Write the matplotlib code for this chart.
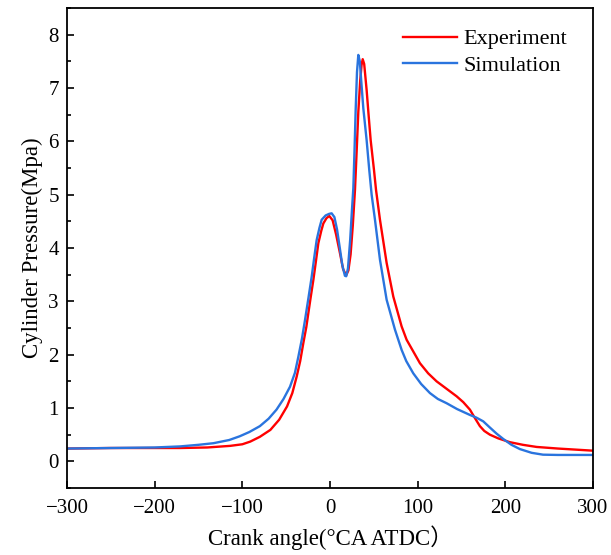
import matplotlib
matplotlib.use("Agg")
import matplotlib.pyplot as plt
from matplotlib.ticker import MultipleLocator

# crank angle (deg CA ATDC) and pressure (MPa)
exp_x = [-300, -250, -200, -171, -140, -114, -100, -91, -80, -68, -58, -49, -43, -38,
         -34, -30.4, -27, -24.7, -22, -19, -16, -13.3, -10, -7.6, -4, -0.8, 3, 7,
         11.4, 15, 18.5, 21, 23.5, 26, 28.5, 30.5, 32.3, 34.5, 36, 37.3, 39, 41.8,
         44, 46.4, 50.2, 52.5, 57, 64.6, 72.2, 81.7, 87.4, 95, 102.6, 112, 121.6,
         133, 144.4, 152, 159.6, 165, 171, 176, 182.4, 192, 205, 220, 235.7, 260,
         280, 300]
exp_y = [0.24, 0.25, 0.25, 0.25, 0.26, 0.29, 0.32, 0.37, 0.46, 0.59, 0.78, 1.03, 1.28, 1.59,
         1.88, 2.22, 2.52, 2.78, 3.08, 3.40, 3.76, 4.09, 4.32, 4.46, 4.56, 4.60, 4.52, 4.25,
         3.90, 3.60, 3.49, 3.58, 3.88, 4.42, 5.09, 5.85, 6.55, 7.15, 7.43, 7.54, 7.45, 6.96,
         6.50, 6.02, 5.46, 5.09, 4.53, 3.72, 3.09, 2.53, 2.28, 2.06, 1.84, 1.65, 1.50,
         1.36, 1.22, 1.11, 0.97, 0.82, 0.66, 0.57, 0.50, 0.43, 0.36, 0.31, 0.27, 0.24,
         0.22, 0.20]

sim_x = [-300, -250, -200, -171, -150, -133, -115, -103, -92, -80, -70, -61, -53, -45.6,
         -40, -36, -32, -28.5, -25, -20.9, -18, -15.2, -12, -9.5, -5, -1, 1.9, 5, 8,
         11, 14, 17, 18.5, 20.5, 23, 25, 26.6, 28, 29.3, 30.8, 32.3, 34, 36, 38,
         41.8, 44.8, 47.5, 51.3, 57, 64.6, 74.1, 81.7, 87, 95, 104, 114, 123, 133,
         145, 159.6, 167, 174.8, 182, 190, 197.6, 207, 216.6, 230, 243, 260, 280, 300]
sim_y = [0.24, 0.25, 0.26, 0.28, 0.31, 0.34, 0.40, 0.47, 0.55, 0.66, 0.80, 0.97, 1.17, 1.40,
         1.66, 1.97, 2.30, 2.65, 3.02, 3.46, 3.82, 4.15, 4.38, 4.53, 4.61, 4.64, 4.65, 4.58, 4.35,
         4.02, 3.68, 3.48, 3.47, 3.62, 4.15, 4.70, 5.12, 5.85, 6.60, 7.30, 7.62, 7.50, 7.05, 6.62,
         6.02, 5.46, 5.00, 4.53, 3.78, 3.03, 2.47, 2.09, 1.88, 1.65, 1.45, 1.28, 1.17, 1.09,
         0.98, 0.87, 0.82, 0.75, 0.64, 0.52, 0.42, 0.31, 0.23, 0.16, 0.125, 0.12, 0.12, 0.12]

plt.rcParams['font.family'] = ['Liberation Serif', 'Noto Sans CJK SC']
plt.rcParams['axes.unicode_minus'] = True

fig = plt.figure(figsize=(6.11, 5.55), dpi=100)
ax = fig.add_axes([0.1097, 0.1207, 0.8608, 0.8649])

ax.plot(exp_x, exp_y, color='#ff0000', lw=1.7, label='Experiment')
ax.plot(sim_x, sim_y, color='#2a74de', lw=1.7, label='Simulation')

ax.set_xlim(-300, 300)
ax.set_ylim(-0.5, 8.5)
ax.xaxis.set_major_locator(MultipleLocator(100))
ax.yaxis.set_major_locator(MultipleLocator(1))
ax.yaxis.set_minor_locator(MultipleLocator(0.5))
ax.tick_params(which='both', direction='in', labelsize=15, width=1.2, top=False, right=False)
ax.tick_params(which='major', length=5)
ax.tick_params(which='minor', length=3)
ax.tick_params(axis='x', pad=8)
ax.tick_params(axis='y', pad=6)
for s in ax.spines.values():
    s.set_linewidth(1.3)

ax.set_xlabel('Crank angle(°CA ATDC）', fontsize=16.5, labelpad=5)
ax.set_ylabel('Cylinder Pressure(Mpa)', fontsize=16.5, labelpad=4)

ax.legend(loc='upper right', bbox_to_anchor=(1 - 17 / 526, 1 - 12 / 480), borderaxespad=0,
          frameon=False, fontsize=16, handlelength=2.4, handletextpad=0.3,
          labelspacing=0.25)

fig.savefig('out.png', dpi=100)
